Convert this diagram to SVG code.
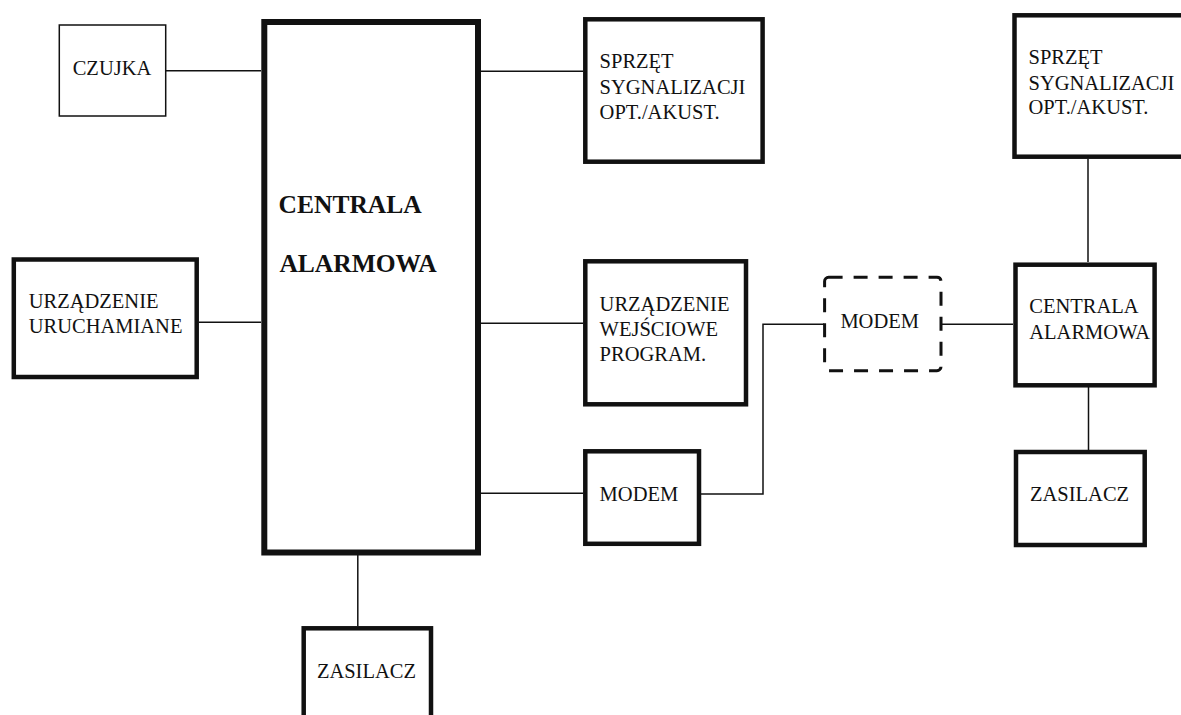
<svg xmlns="http://www.w3.org/2000/svg" width="1181" height="715" viewBox="0 0 1181 715">
<style>
.t{font-family:"Liberation Serif","Times New Roman",serif;font-size:20.5px;fill:#111}
.b{font-family:"Liberation Serif","Times New Roman",serif;font-size:25.5px;font-weight:bold;fill:#111}
.box{fill:none;stroke:#111;stroke-width:4.5}
.thin{fill:none;stroke:#111;stroke-width:1.5}
.main{fill:none;stroke:#111;stroke-width:6}
.dash{fill:none;stroke:#111;stroke-width:3;stroke-dasharray:14 11}
.c{fill:none;stroke:#111;stroke-width:1.5}
</style>
<rect width="1181" height="715" fill="#fff"/>
<g id="connectors">
<line class="c" x1="166" y1="70.7" x2="261" y2="70.7"/>
<line class="c" x1="199" y1="322.3" x2="261" y2="322.3"/>
<line class="c" x1="481" y1="71.3" x2="583" y2="71.3"/>
<line class="c" x1="481" y1="323.3" x2="583" y2="323.3"/>
<line class="c" x1="481" y1="493.3" x2="583" y2="493.3"/>
<polyline class="c" points="701,494 763,494 763,324.3 824,324.3"/>
<line class="c" x1="941" y1="324.3" x2="1013" y2="324.3"/>
<line class="c" x1="1088" y1="159" x2="1088" y2="262"/>
<line class="c" x1="1088.5" y1="387" x2="1088.5" y2="450"/>
<line class="c" x1="357.8" y1="555" x2="357.8" y2="626"/>
</g>
<g id="czujka">
<rect class="thin" x="59.3" y="25" width="106.4" height="91"/>
<text class="t" x="72.7" y="75">CZUJKA</text>
</g>
<g id="centrala-main">
<rect class="main" x="264.3" y="22" width="213.7" height="530.5"/>
<text class="b" x="278.6" y="213.3">CENTRALA</text>
<text class="b" x="279.4" y="271.7">ALARMOWA</text>
</g>
<g id="urzadzenie-uruchamiane">
<rect class="box" x="13.8" y="259.5" width="182.9" height="117.5"/>
<text class="t" x="28.7" y="308.3">URZĄDZENIE</text>
<text class="t" x="28.7" y="333.3">URUCHAMIANE</text>
</g>
<g id="sprzet-left">
<rect class="box" x="585.3" y="19.3" width="177.3" height="142.4"/>
<text class="t" x="599.6" y="68.3">SPRZĘT</text>
<text class="t" x="599.6" y="94.3">SYGNALIZACJI</text>
<text class="t" x="599.6" y="119.3">OPT./AKUST.</text>
</g>
<g id="urzadzenie-wejsciowe">
<rect class="box" x="585.3" y="261.3" width="160.7" height="143"/>
<text class="t" x="599.6" y="310.7">URZĄDZENIE</text>
<text class="t" x="599.6" y="335.7">WEJŚCIOWE</text>
<text class="t" x="599.6" y="360.7">PROGRAM.</text>
</g>
<g id="modem-left">
<rect class="box" x="585.3" y="451.3" width="113.7" height="92.5"/>
<text class="t" x="599.6" y="500.5">MODEM</text>
</g>
<g id="modem-dashed">
<rect class="dash" x="824.6" y="277.3" width="116.4" height="93.4" rx="4"/>
<text class="t" x="840.4" y="328.3">MODEM</text>
</g>
<g id="sprzet-right">
<rect class="box" x="1014.5" y="15.3" width="180" height="141.4"/>
<text class="t" x="1028.5" y="64">SPRZĘT</text>
<text class="t" x="1028.5" y="90">SYGNALIZACJI</text>
<text class="t" x="1028.5" y="114.3">OPT./AKUST.</text>
</g>
<g id="centrala-right">
<rect class="box" x="1015.5" y="264.7" width="139.1" height="120.6"/>
<text class="t" x="1029.3" y="313.3">CENTRALA</text>
<text class="t" x="1029.3" y="339">ALARMOWA</text>
</g>
<g id="zasilacz-right">
<rect class="box" x="1016" y="452" width="128.7" height="93"/>
<text class="t" x="1030" y="500.5">ZASILACZ</text>
</g>
<g id="zasilacz-main">
<rect class="box" x="303.7" y="628.3" width="127.3" height="100"/>
<text class="t" x="316.9" y="678.3">ZASILACZ</text>
</g>
</svg>
